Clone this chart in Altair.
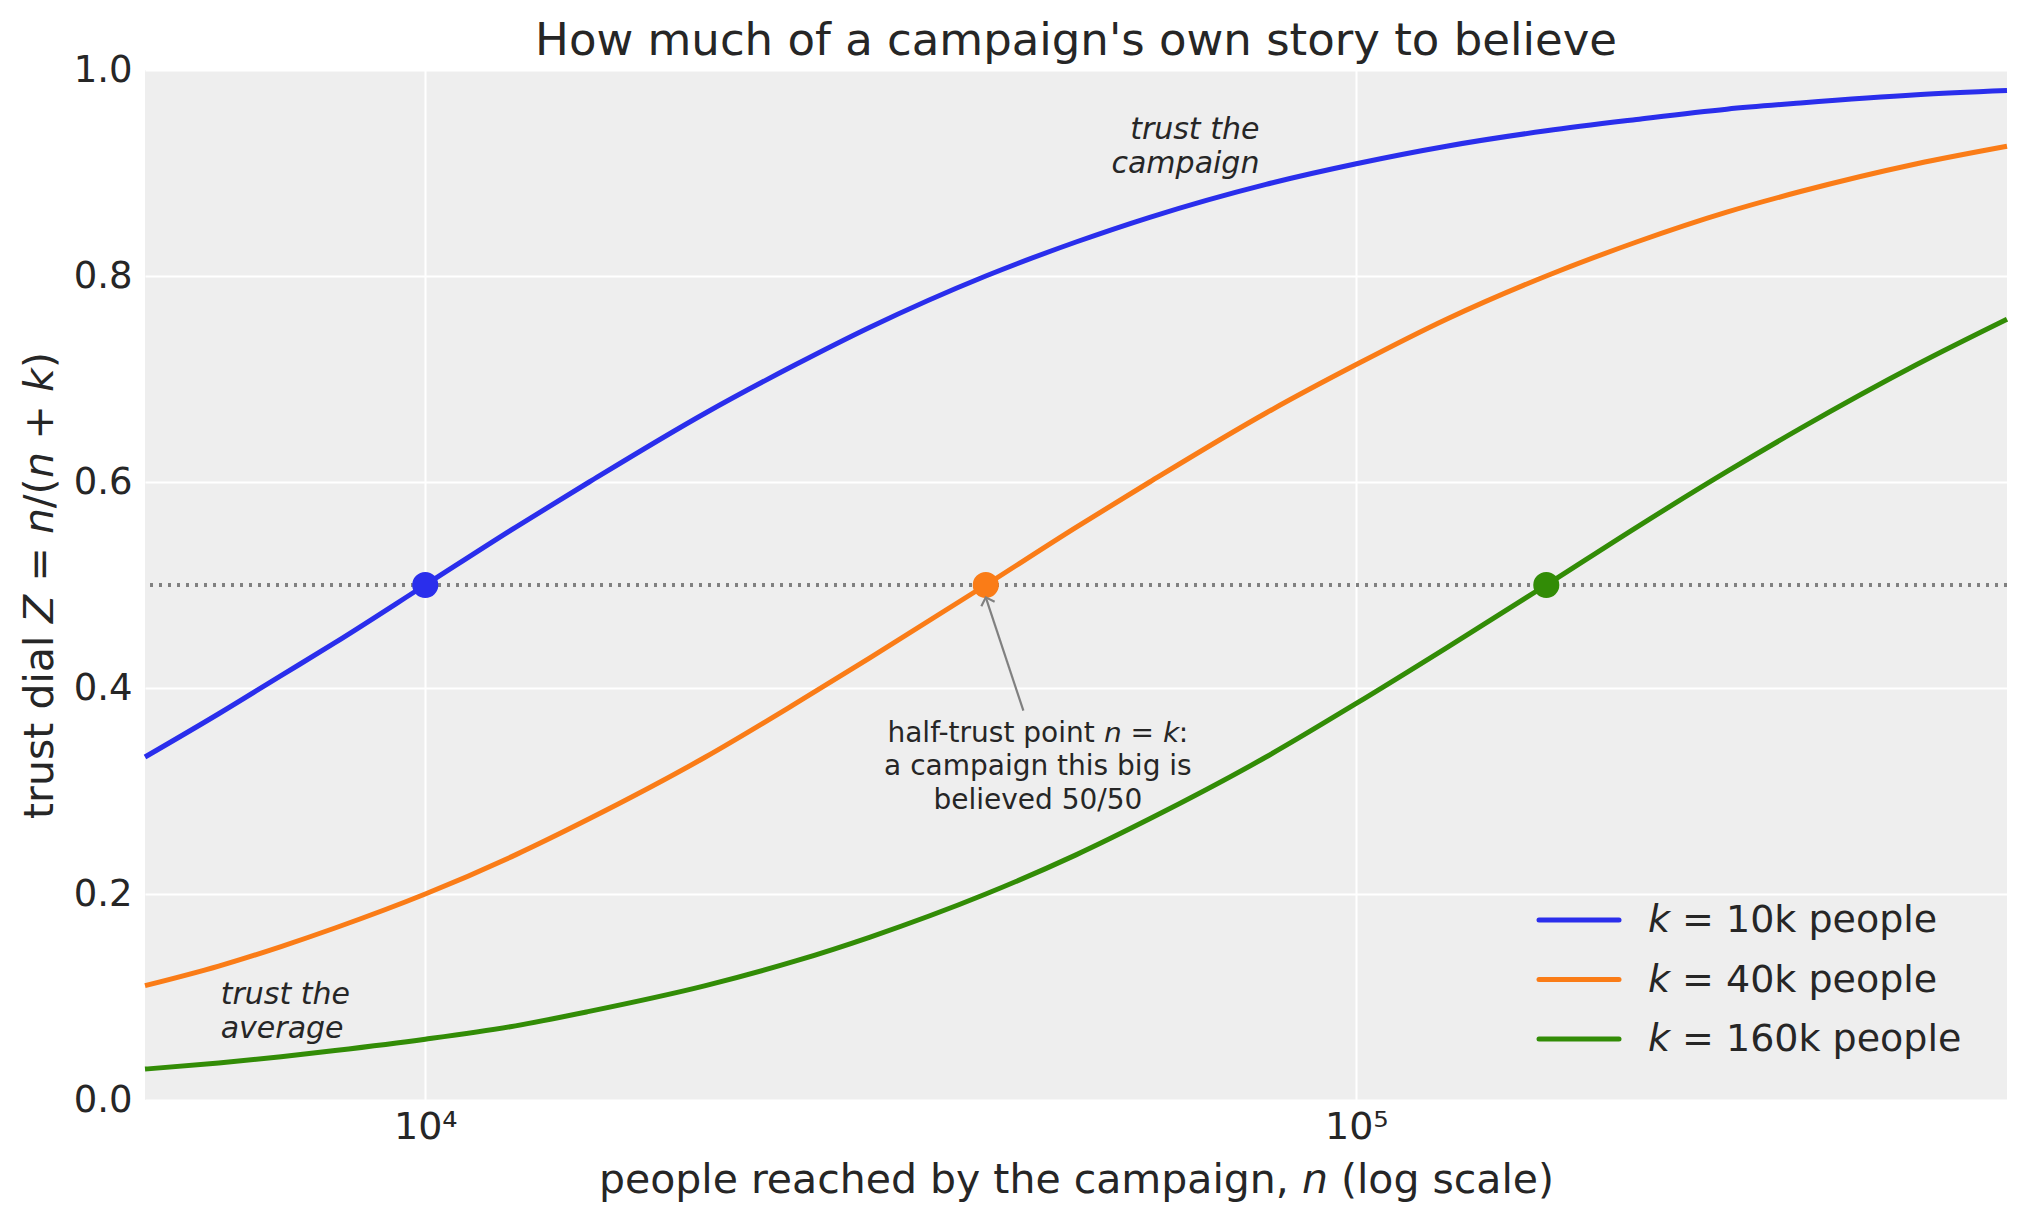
import altair as alt
import pandas as pd

# ---- data ----
n_values = [5000, 6000, 7000, 8000, 10000, 12500, 15000, 20000, 25000, 30000, 40000,
            50000, 60000, 80000, 100000, 125000, 160000, 200000, 250000, 300000, 400000, 500000]
z_k10 = [0.333, 0.375, 0.412, 0.444, 0.500, 0.556, 0.600, 0.667, 0.714, 0.750, 0.800,
         0.833, 0.857, 0.889, 0.909, 0.926, 0.941, 0.952, 0.962, 0.968, 0.976, 0.980]
z_k40 = [0.111, 0.130, 0.149, 0.167, 0.200, 0.238, 0.273, 0.333, 0.385, 0.429, 0.500,
         0.556, 0.600, 0.667, 0.714, 0.758, 0.800, 0.833, 0.862, 0.882, 0.909, 0.926]
z_k160 = [0.030, 0.036, 0.042, 0.048, 0.059, 0.072, 0.086, 0.111, 0.135, 0.158, 0.200,
          0.238, 0.273, 0.333, 0.385, 0.439, 0.500, 0.556, 0.610, 0.652, 0.714, 0.758]

series_labels = ["𝘬 = 10k people", "𝘬 = 40k people", "𝘬 = 160k people"]
series_colors = ["#2a2eec", "#fa7c17", "#328c06"]

half_n = [10000, 40000, 160000]
half_z = [0.5, 0.5, 0.5]

x_ticks = [10000, 100000]
y_ticks = [0.0, 0.2, 0.4, 0.6, 0.8, 1.0]

title_text = "How much of a campaign's own story to believe"

note_texts = ["trust the\ncampaign", "trust the\naverage"]
note_n = [78700, 6030]
note_z = [0.933, 0.093]

half_note = "half-trust point 𝘯 = 𝘬:\na campaign this big is\nbelieved 50/50"
half_note_n = [45500]
half_note_z = [0.348]

arrow_from = [43900, 0.378]
arrow_to = [40000, 0.488]

TXT = "#262626"
FONT = "DejaVu Sans"
W, H = 1862, 1030

rows = []
for lab, zs in zip(series_labels, [z_k10, z_k40, z_k160]):
    for n, z in zip(n_values, zs):
        rows.append({"n": n, "Z": z, "series": lab})
lines_df = pd.DataFrame(rows)
pts_df = pd.DataFrame({"n": half_n, "Z": half_z, "series": series_labels})
notes_df = pd.DataFrame({"n": note_n, "Z": note_z, "label": note_texts})
half_df = pd.DataFrame({"n": half_note_n, "Z": half_note_z, "label": [half_note]})
arrow_df = pd.DataFrame({"n": [arrow_from[0]], "Z": [arrow_from[1]],
                         "n2": [arrow_to[0]], "Z2": [arrow_to[1]]})
tip_df = pd.DataFrame({"n": [arrow_to[0]], "Z": [arrow_to[1]]})
title_df = pd.DataFrame({"label": [title_text]})

xscale = alt.Scale(type="log", domain=[5000, 500000], nice=False)
yscale = alt.Scale(domain=[0, 1], nice=False, zero=False)
cscale = alt.Scale(domain=series_labels, range=series_colors)

x_axis = alt.Axis(
    values=x_ticks,
    labelExpr="datum.value == 10000 ? '10⁴' : '10⁵'",
    title="people reached by the campaign, 𝘯 (log scale)",
    grid=True, gridColor="white", gridWidth=2,
    ticks=False, domain=False,
    labelFontSize=38, labelFont=FONT, labelColor=TXT, labelPadding=8,
    titleFontSize=41, titleFont=FONT, titleColor=TXT, titleFontWeight="normal",
    titleBaseline="alphabetic", titleY=92, titleX=W / 2,
)
y_axis = alt.Axis(
    values=y_ticks, format=".1f",
    title="trust dial 𝘡 = 𝘯/(𝘯 + 𝘬)",
    grid=True, gridColor="white", gridWidth=2,
    ticks=False, domain=False,
    labelFontSize=37, labelFont=FONT, labelColor=TXT, labelPadding=13,
    titleFontSize=41, titleFont=FONT, titleColor=TXT, titleFontWeight="normal",
    titleAngle=270, titleBaseline="alphabetic", titleAlign="center",
    titleX=-93, titleY=H / 2,
)

half_rule = alt.Chart(lines_df).mark_rule(
    color="#808080", strokeDash=[3, 6], strokeWidth=2.5
).encode(y=alt.datum(0.5, scale=yscale))

lines = alt.Chart(lines_df).mark_line(strokeWidth=5, interpolate="monotone").encode(
    x=alt.X("n:Q", scale=xscale, axis=x_axis),
    y=alt.Y("Z:Q", scale=yscale, axis=y_axis),
    color=alt.Color("series:N", scale=cscale, sort=series_labels, legend=None),
    detail="series:N",
)

points = alt.Chart(pts_df).mark_point(filled=True, size=680, opacity=1).encode(
    x=alt.X("n:Q", scale=xscale),
    y=alt.Y("Z:Q", scale=yscale),
    color=alt.Color("series:N", scale=cscale, legend=None),
)

arrow_line = alt.Chart(arrow_df).mark_rule(color="#808080", strokeWidth=2.2).encode(
    x=alt.X("n:Q", scale=xscale), y=alt.Y("Z:Q", scale=yscale),
    x2="n2:Q", y2="Z2:Q",
)
arrow_tip = alt.Chart(tip_df).mark_point(
    shape="M -1 1 L 0 0 L 1 1", filled=False, size=196, angle=341.6,
    color="#808080", strokeWidth=2.2, opacity=1,
).encode(x=alt.X("n:Q", scale=xscale), y=alt.Y("Z:Q", scale=yscale))

note_campaign = alt.Chart(notes_df.iloc[[0]]).mark_text(
    align="right", baseline="alphabetic", fontStyle="italic", fontSize=30,
    font=FONT, color=TXT, lineBreak="\n", lineHeight=34,
).encode(x=alt.X("n:Q", scale=xscale), y=alt.Y("Z:Q", scale=yscale), text="label:N")

note_average = alt.Chart(notes_df.iloc[[1]]).mark_text(
    align="left", baseline="alphabetic", fontStyle="italic", fontSize=30,
    font=FONT, color=TXT, lineBreak="\n", lineHeight=34,
).encode(x=alt.X("n:Q", scale=xscale), y=alt.Y("Z:Q", scale=yscale), text="label:N")

note_half = alt.Chart(half_df).mark_text(
    align="center", baseline="alphabetic", fontSize=28,
    font=FONT, color=TXT, lineBreak="\n", lineHeight=33.5,
).encode(x=alt.X("n:Q", scale=xscale), y=alt.Y("Z:Q", scale=yscale), text="label:N")

title_mark = alt.Chart(title_df).mark_text(
    align="center", baseline="alphabetic", fontSize=45, font=FONT, color=TXT,
).encode(x=alt.value(W / 2), y=alt.value(-15), text="label:N")

# legend (lines + labels), bottom right inside the plot
legend_layers = []
for i, lab in enumerate(series_labels):
    d = pts_df.iloc[[i]]
    yy = 850 + 59.5 * i
    legend_layers.append(
        alt.Chart(d).mark_rule(strokeWidth=5, strokeCap="round").encode(
            x=alt.value(1394), x2=alt.value(1474), y=alt.value(yy),
            color=alt.Color("series:N", scale=cscale, legend=None),
        )
    )
    legend_layers.append(
        alt.Chart(d).mark_text(
            align="left", baseline="middle", fontSize=38, font=FONT, color=TXT,
        ).encode(x=alt.value(1503), y=alt.value(yy + 1), text="series:N")
    )

chart = alt.layer(
    half_rule, lines, points, arrow_line, arrow_tip,
    note_campaign, note_average, note_half, title_mark, *legend_layers
).properties(
    width=W, height=H,
    autosize=alt.AutoSizeParams(type="none"),
    padding={"left": 137, "top": 62, "right": 8, "bottom": 115},
).configure(
    background="white", font=FONT
).configure_view(
    fill="#eeeeee", stroke=None
)

chart.save("out.html", embed_options={"renderer": "svg", "actions": False})
